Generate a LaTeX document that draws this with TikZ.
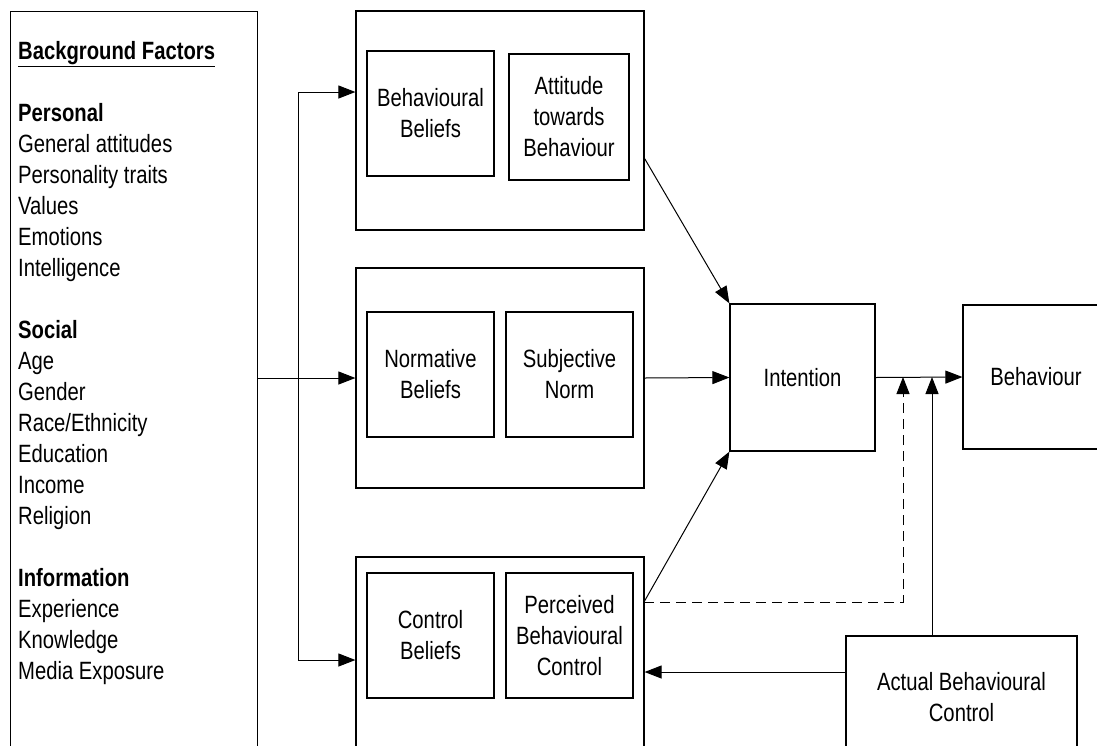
\documentclass[tikz,border=0pt]{standalone}
\usepackage{fontspec}
\setmainfont{Liberation Sans}[FakeStretch=0.81]
\usetikzlibrary{arrows.meta}

\begin{document}
\begin{tikzpicture}[x=1pt, y=-1pt,
    every node/.style={font=\fontsize{25}{31}\selectfont},
    box/.style={draw, line width=1.2pt, minimum width=288, minimum height=219},
    inbox/.style={draw, line width=1.2pt, minimum width=127, minimum height=125, align=center, inner sep=0pt},
    arr/.style={line width=1pt, -{Triangle[length=17pt, width=13pt]}}]
\useasboundingbox (0,0) rectangle (1097,745);
\clip (0,0) rectangle (1097,745);
\node[draw, line width=1.2pt, anchor=north west, minimum width=247, minimum height=760] (bgbox) at (10,11) {};
\node[anchor=north west, align=left, inner sep=0pt] (factors) at (18,41) {\textbf{\underline{Background Factors}}\\[31pt]
    \textbf{Personal}\\General attitudes\\Personality traits\\Values\\Emotions\\Intelligence\\[31pt]
    \textbf{Social}\\Age\\Gender\\Race/Ethnicity\\Education\\Income\\Religion\\[31pt]
    \textbf{Information}\\Experience\\Knowledge\\Media Exposure};
% three belief blocks
\node[box] (top) at (500,120.5) {};
\node[inbox] (bb) at (430.5,113.5) {Behavioural\\Beliefs};
\node[inbox, minimum width=120, minimum height=126] (att) at (569,117) {Attitude\\towards\\Behaviour};
\node[box, minimum height=220] (mid) at (500,378) {};
\node[inbox] (nb) at (430.5,374.5) {Normative\\Beliefs};
\node[inbox] (sn) at (569.5,374.5) {Subjective\\Norm};
\node[box, minimum height=220] (bot) at (500,667) {};
\node[inbox] (cb) at (430.5,635.5) {Control\\Beliefs};
\node[inbox] (pbc) at (569.5,635.5) {Perceived\\Behavioural\\Control};
% right side
\node[draw, line width=1.2pt, minimum width=145, minimum height=147] (int) at (802.5,377.5) {Intention};
\node[draw, line width=1.2pt, minimum width=146, minimum height=144] (beh) at (1036,377) {Behaviour};
\node[draw, line width=1.2pt, minimum width=231, minimum height=122, align=center] (abc) at (961.5,697) {Actual Behavioural\\Control};
% connectors
\coordinate (split) at (298,378);
\coordinate (ftop) at (298,92);
\coordinate (fbot) at (298,660);
\draw[line width=1pt] (bgbox.east |- split) -- (split);
\draw[line width=1pt] (ftop) -- (fbot);
\draw[arr] (ftop) -- (ftop -| top.west);
\draw[arr] (split) -- (mid.west);
\draw[arr] (fbot) -- (fbot -| bot.west);
\draw[arr] ([yshift=-38pt]top.east) -- (int.north west);
\draw[arr] (mid.east) -- (int.west);
\coordinate (pout) at (644,602);
\draw[arr] (pout) -- (int.south west);
\draw[arr] (int.east) -- (beh.west);
\coordinate (dashin) at (903,377);
\coordinate (actin) at (932,377);
\draw[arr, dash pattern=on 10pt off 6pt] (pout) -| (dashin);
\draw[arr] (abc.north -| actin) -- (actin);
\draw[arr] ([yshift=25pt]abc.west) -- ([yshift=25pt]abc.west -| bot.east);
\end{tikzpicture}
\end{document}
